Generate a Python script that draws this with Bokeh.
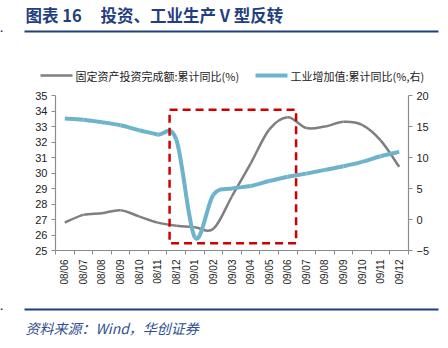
import math
from bokeh.plotting import figure
from bokeh.layouts import column, row
from bokeh.models import (ColumnDataSource, Range1d, LinearAxis, FixedTicker,
                          Label, BoxAnnotation)
from bokeh.embed import file_html
from bokeh.resources import INLINE

months = ["08/06", "08/07", "08/08", "08/09", "08/10", "08/11", "08/12",
          "09/01", "09/02", "09/03", "09/04", "09/05", "09/06", "09/07",
          "09/08", "09/09", "09/10", "09/11", "09/12"]
fai = [26.8, 27.3, 27.4, 27.6, 27.2, 26.8, 26.6,
       26.5, 26.4, 28.5, 30.6, 32.8, 33.6, 32.9,
       33.0, 33.3, 33.1, 32.1, 30.4]
iva = [16.3, 16.1, 15.7, 15.2, 14.4, 13.7, 12.9,
       -2.9, 4.0, 5.0, 5.4, 6.2, 6.9, 7.4,
       8.0, 8.6, 9.3, 10.2, 10.9]
left_ticks = list(range(25, 36))
right_ticks = [-5, 0, 5, 10, 15, 20]
title_main = "图表 16"
title_rest = "投资、工业生产 V 型反转"
fai_name = "固定资产投资完成额:累计同比(%)"
iva_name = "工业增加值:累计同比(%,右)"
source_text = "资料来源：Wind，华创证券"
highlight = ("08/12", "09/06")

W = 448
TOP_H, MAIN_H, BOT_H = 88, 212, 48
GRAY = "#7f7f7f"
BLUE = "#6db3cc"
DARK_BLUE = "#1f3f80"
CJK = "Noto Sans CJK SC"
FONT = "Liberation Sans"

xs = [i + 0.5 for i in range(len(months))]


def bezier_source(x, y):
    n = len(x)
    d = dict(x0=[], y0=[], x1=[], y1=[], cx0=[], cy0=[], cx1=[], cy1=[])
    for i in range(n - 1):
        pm = i - 1 if i > 0 else i
        pp = i + 2 if i + 2 < n else i + 1
        d["x0"].append(x[i]); d["y0"].append(y[i])
        d["x1"].append(x[i + 1]); d["y1"].append(y[i + 1])
        d["cx0"].append(x[i] + (x[i + 1] - x[pm]) / 6)
        d["cy0"].append(y[i] + (y[i + 1] - y[pm]) / 6)
        d["cx1"].append(x[i + 1] - (x[pp] - x[i]) / 6)
        d["cy1"].append(y[i + 1] - (y[pp] - y[i]) / 6)
    return ColumnDataSource(d)


def blank(h):
    f = figure(width=W, height=h, output_backend="svg", toolbar_location=None,
               x_range=Range1d(0, W), y_range=Range1d(h, 0),
               min_border=0, min_border_left=0, min_border_right=0,
               min_border_top=0, min_border_bottom=0,
               x_axis_location=None, y_axis_location=None)
    f.outline_line_color = None
    f.grid.visible = False
    return f


# ---- header: title, rule, legend ----
top = blank(TOP_H)
top.add_layout(Label(x=25, y=26, text=title_main, text_font=CJK,
                     text_font_style="bold", text_font_size="16.5px",
                     text_color=DARK_BLUE, text_baseline="bottom"))
top.add_layout(Label(x=100, y=26, text=title_rest, text_font=CJK,
                     text_font_style="bold", text_font_size="16.5px",
                     text_color=DARK_BLUE, text_baseline="bottom"))
top.add_layout(BoxAnnotation(left=24, right=438, top=30, bottom=32,
                             fill_color=DARK_BLUE, fill_alpha=1, line_color=None))
top.add_layout(BoxAnnotation(left=0, right=2, top=30, bottom=31.5,
                             fill_color=DARK_BLUE, fill_alpha=1, line_color=None))
legend_names = [fai_name, iva_name]
legend_colors = [GRAY, BLUE]
legend_widths = [2.5, 4]
legend_x = [40, 255]
top.segment(x0=legend_x, x1=[x + 32 for x in legend_x], y0=[75, 75], y1=[75, 75],
            line_color=legend_colors, line_width=legend_widths)
for name, x in zip(legend_names, legend_x):
    top.add_layout(Label(x=x + 35, y=75, text=name, text_font=CJK,
                         text_font_size="11px", text_color="#222222",
                         text_baseline="middle"))

# ---- main chart ----
p = figure(width=W, height=MAIN_H, output_backend="svg", toolbar_location=None,
           x_range=Range1d(0, len(months)), y_range=Range1d(25, 35),
           min_border_left=55, min_border_right=40, min_border_top=7,
           min_border_bottom=50, x_axis_location=None, y_axis_location=None)
p.outline_line_color = None
p.grid.visible = False
p.extra_y_ranges = {"right": Range1d(-5, 20)}

axis_color = "#8c8c8c"
yl = LinearAxis(ticker=FixedTicker(ticks=left_ticks, minor_ticks=[]))
yr = LinearAxis(y_range_name="right", ticker=FixedTicker(ticks=right_ticks, minor_ticks=[]))
xa = LinearAxis(ticker=FixedTicker(ticks=xs, minor_ticks=list(range(len(months) + 1))),
                major_label_overrides={x: m for x, m in zip(xs, months)},
                major_label_orientation=math.pi / 2)
for ax in (yl, yr, xa):
    ax.axis_line_color = axis_color
    ax.axis_line_width = 1.2
    ax.major_tick_line_color = axis_color
    ax.major_tick_in = 0
    ax.major_tick_out = 4
    ax.minor_tick_line_color = None
    ax.major_label_text_font = FONT
    ax.major_label_text_font_size = "11px"
    ax.major_label_text_color = "#222222"
    ax.major_label_standoff = 4
xa.major_tick_line_color = None
xa.minor_tick_line_color = axis_color
xa.minor_tick_in = 0
xa.minor_tick_out = 4
xa.major_label_text_font_size = "10px"
xa.major_label_standoff = 5
p.add_layout(yl, "left")
p.add_layout(yr, "right")
p.add_layout(xa, "below")

i0 = months.index(highlight[0])
i1 = months.index(highlight[1])
p.add_layout(BoxAnnotation(left=i0 + 0.14, right=i1 + 0.95, bottom=25.47, top=34.08,
                           fill_color=None, fill_alpha=0, line_color="#d00000",
                           line_alpha=1, line_width=2.5, line_dash="8 5"))

p.bezier(x0="x0", y0="y0", x1="x1", y1="y1", cx0="cx0", cy0="cy0",
         cx1="cx1", cy1="cy1", source=bezier_source(xs, fai),
         line_color=GRAY, line_width=2.5)
p.bezier(x0="x0", y0="y0", x1="x1", y1="y1", cx0="cx0", cy0="cy0",
         cx1="cx1", cy1="cy1", source=bezier_source(xs, iva),
         line_color=BLUE, line_width=4, y_range_name="right")

# ---- footer: rule and source ----
bot = blank(BOT_H)
bot.add_layout(BoxAnnotation(left=24, right=438, top=8, bottom=10,
                             fill_color=DARK_BLUE, fill_alpha=1, line_color=None))
bot.add_layout(BoxAnnotation(left=0, right=2, top=8, bottom=9.5,
                             fill_color=DARK_BLUE, fill_alpha=1, line_color=None))
bot.add_layout(Label(x=25, y=27, text=source_text, text_font=CJK,
                     text_font_style="italic", text_font_size="14px",
                     text_color="#2f4f8f", text_baseline="middle"))

layout = column(row(top), p, row(bot), spacing=0)
open("out.html", "w").write(file_html(layout, INLINE))
